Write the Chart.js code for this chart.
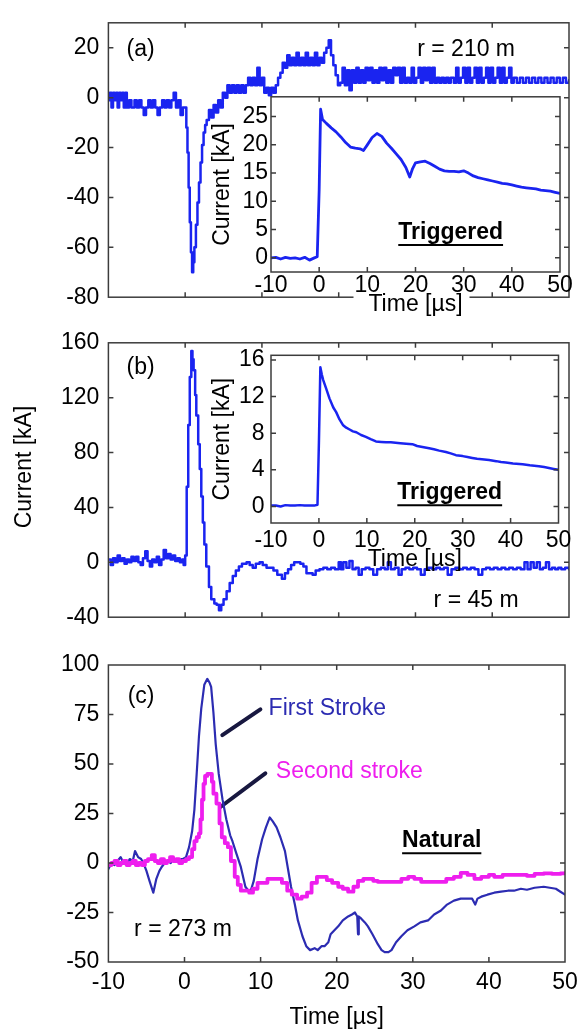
<!DOCTYPE html>
<html>
<head>
<meta charset="utf-8">
<script src="https://cdn.jsdelivr.net/npm/chart.js@4.4.1/dist/chart.umd.min.js"></script>
<style>
  html, body { margin: 0; padding: 0; background: #fff; }
  #fig { position: relative; width: 585px; height: 1033px; overflow: hidden; }
  #fig canvas { position: absolute; }
</style>
</head>
<body>
<div id="fig">
  <canvas id="mainA" width="585" height="320" style="left:0;top:0"></canvas>
  <canvas id="insetA" width="375" height="240" style="left:200px;top:80px"></canvas>
  <canvas id="mainB" width="585" height="320" style="left:0;top:320px"></canvas>
  <canvas id="insetB" width="375" height="240" style="left:200px;top:335px"></canvas>
  <canvas id="mainC" width="585" height="393" style="left:0;top:640px"></canvas>
</div>
<script>
// Lightning current waveforms: (a) and (b) measured at distance r with the
// triggered-lightning channel current as inset, (c) natural first and
// subsequent strokes. All traces are [time µs, current kA].

const FONT = '"Liberation Sans", Arial, Helvetica, sans-serif';
const TEXT_SIZE = 23;

const TIME_TICKS = [-10, 0, 10, 20, 30, 40, 50];
const A_TICKS = [-80, -60, -40, -20, 0, 20];
const A_INSET_TICKS = [0, 5, 10, 15, 20, 25];
const B_TICKS = [-40, 0, 40, 80, 120, 160];
const B_INSET_TICKS = [0, 4, 8, 12, 16];
const C_TICKS = [-50, -25, 0, 25, 50, 75, 100];

// (a) r = 210 m
const mainA = [
  [-10, -1], [-9.8, 2], [-9.6, -4], [-9.4, 2], [-9.2, -1], [-9, 2], [-8.8, -4], [-8.6, 2], [-8.4, -1],
  [-8.2, 2], [-8, -4], [-7.8, 2], [-7.6, -4], [-7.3, -1], [-7, -4], [-6.6, -1], [-6.3, -4], [-6, -1],
  [-5.7, -4], [-5.4, -7], [-5.1, -4], [-4.8, -1], [-4.5, -4], [-4.2, -1], [-3.9, -4], [-3.6, -7],
  [-3.3, -4], [-3, -1], [-2.7, -4], [-2.4, -1], [-2.1, -4], [-1.8, -1], [-1.5, 2], [-1.2, -4], [-0.9, -1],
  [-0.6, -7], [-0.3, -4], [0, -4], [0.15, -12], [0.3, -22], [0.45, -36], [0.6, -50], [0.75, -62], [0.9, -70],
  [1.05, -66], [1.2, -60], [1.4, -51], [1.6, -42], [1.8, -34], [2, -26], [2.2, -19], [2.4, -14], [2.6, -11],
  [2.8, -9], [3.1, -5], [3.4, -8], [3.7, -3], [4, -6], [4.3, -1], [4.6, -4], [4.9, 2], [5.2, 0],
  [5.5, 5], [5.8, 2], [6.1, 5], [6.4, 2], [6.7, 5], [7, 2], [7.3, 5], [7.6, 2], [7.9, 5], [8.2, 8], [8.5, 5],
  [8.8, 8], [9.1, 5], [9.4, 12], [9.7, 5], [10, 8], [10.3, 2], [10.6, 4], [10.9, 1], [11.2, 4], [11.5, 2],
  [11.8, 5], [12.1, 8], [12.4, 10], [12.7, 14], [13, 12], [13.3, 17], [13.6, 13], [13.9, 16], [14.2, 13],
  [14.5, 18], [14.8, 13], [15.1, 16], [15.4, 13], [15.7, 18], [16, 13], [16.3, 16], [16.6, 13], [16.9, 18],
  [17.2, 13], [17.5, 16], [17.8, 14], [18.1, 18], [18.4, 20], [18.7, 23], [19, 17], [19.3, 13], [19.6, 9],
  [19.9, 5], [20.2, 6], [20.5, 12], [20.8, 5], [21.1, 11], [21.4, 3], [21.7, 11], [22, 6], [22.3, 12],
  [22.6, 6], [22.9, 11], [23.2, 6], [23.5, 12], [23.8, 7], [24.1, 12], [24.4, 6], [24.7, 11], [25, 6],
  [25.3, 12], [25.6, 7], [25.9, 12], [26.2, 6], [26.5, 11], [26.8, 6], [27.1, 12], [27.4, 9], [27.7, 12],
  [28, 6], [28.3, 12], [28.6, 6], [28.9, 8], [29.2, 6], [29.5, 12], [29.8, 6], [30.1, 8], [30.4, 12],
  [30.7, 6], [31, 12], [31.3, 7], [31.6, 12], [31.9, 6], [32.2, 12], [32.5, 6], [32.8, 8], [33.1, 6],
  [33.4, 8], [33.7, 6], [34, 8], [34.3, 6], [34.6, 8], [35, 6], [35.3, 12], [35.6, 6], [35.9, 8], [36.2, 12],
  [36.5, 6], [36.8, 12], [37.1, 6], [37.4, 8], [37.7, 12], [38, 6], [38.3, 12], [38.6, 6], [38.9, 8],
  [39.2, 12], [39.5, 6], [39.8, 12], [40.1, 6], [40.4, 8], [40.7, 12], [41, 6], [41.3, 12], [41.6, 6],
  [41.9, 8], [42.2, 12], [42.5, 6], [42.8, 8], [43.2, 6], [43.6, 8], [44, 6], [44.4, 8], [44.8, 6], [45.2, 8],
  [45.6, 6], [46, 8], [46.4, 6], [46.8, 8], [47.2, 6], [47.6, 8], [48, 6], [48.4, 8], [48.8, 6], [49.2, 8],
  [49.6, 6], [50, 7],
];

// (a) inset, triggered channel current
const insetA = [
  [-10, 0], [-9, 0.1], [-8, -0.2], [-7, 0.1], [-6, -0.1], [-5, 0], [-4, -0.2], [-3, 0.1], [-2, -0.4],
  [-1, 0], [-0.4, 0.2], [0, 12], [0.3, 26.3], [0.7, 24.5], [1.5, 23.8], [2.5, 23], [3.5, 22.3], [4.5, 21.4],
  [5.5, 20.4], [6.5, 19.6], [7.5, 19.4], [8.5, 19.3], [9.2, 19], [10, 20], [11, 21.3], [12, 22], [13, 21.5],
  [14, 20.3], [15, 19.4], [16, 18.4], [17, 17.4], [18, 16], [18.8, 14.3], [19.4, 15.8], [20, 16.8], [21, 17],
  [22, 17.1], [23, 16.7], [24, 16.2], [25, 15.7], [26, 15.4], [27, 15.3], [28, 15.3], [29, 15.2], [30, 15.4],
  [31, 15], [32, 14.5], [33, 14.2], [34, 14], [35, 13.8], [36, 13.6], [37, 13.4], [38, 13.2], [39, 13.1],
  [40, 12.9], [41, 12.7], [42, 12.5], [43, 12.4], [44, 12.3], [45, 12.2], [46, 12], [47, 11.9], [48, 11.8],
  [49, 11.6], [50, 11.4],
];

// (b) r = 45 m
const mainB = [
  [-10, 2], [-9.7, -2], [-9.4, 3], [-9.1, 0], [-8.8, 5], [-8.5, 1], [-8.2, 3], [-7.9, -1], [-7.6, 2],
  [-7.3, 0], [-7, 4], [-6.7, 1], [-6.4, 4], [-6.1, 0], [-5.8, -2], [-5.5, 3], [-5.2, 8], [-4.9, 1],
  [-4.6, -3], [-4.3, 2], [-4, 0], [-3.7, 4], [-3.4, -2], [-3.1, 2], [-2.8, 9], [-2.5, 3], [-2.2, 6],
  [-1.9, 2], [-1.6, 5], [-1.3, 1], [-1, 3], [-0.7, 0], [-0.4, 2], [-0.2, -2], [0, 5], [0.2, 55], [0.4, 100],
  [0.6, 135], [0.8, 154], [0.95, 148], [1.1, 140], [1.3, 122], [1.45, 107], [1.7, 86], [1.9, 68], [2.1, 48],
  [2.3, 29], [2.5, 13], [2.75, -3], [3.1, -18], [3.4, -27], [3.8, -30], [4.1, -31],
  [4.4, -35], [4.7, -31], [5, -27], [5.4, -21], [5.8, -15], [6.2, -10], [6.6, -6], [7, -3], [7.4, -1], [8, 0],
  [8.4, -2], [8.8, -4], [9.2, -1], [9.7, 0], [10.1, -2], [10.6, -4], [11, -4], [11.5, -6], [12, -9],
  [12.6, -12], [13, -8], [13.4, -5], [13.8, -2], [14.2, 0], [14.6, 0], [15, -1], [15.4, -3], [15.8, -8],
  [16.2, -8], [16.6, -9], [17, -6], [17.5, -5], [18, -4], [18.5, -5], [19, -4], [19.5, -5], [20, 0],
  [20.3, -5], [20.6, 0], [21, -4], [21.4, 1], [21.8, -5], [22.2, -4], [22.6, -9], [23, -5], [23.5, -4],
  [24, -5], [24.5, -9], [25, -5], [25.5, -4], [26, -5], [26.4, 0], [26.8, -5], [27.3, -4], [27.8, -9],
  [28.2, -5], [28.7, -4], [29.2, -5], [29.7, -4], [30.2, -5], [30.7, -9], [31.2, -5], [31.7, -4], [32.2, -5],
  [32.7, -4], [33.2, -5], [33.7, -4], [34.2, -9], [34.7, -5], [35.2, -4], [35.7, -5], [36.2, -4], [36.7, -5],
  [37.2, -4], [37.7, -5], [38.2, -9], [38.7, -5], [39.2, -4], [39.7, -5], [40.2, -4], [40.7, -5], [41.2, -4],
  [41.7, -5], [42.2, -4], [42.7, -5], [43.2, -4], [43.7, -5], [44.2, 0], [44.6, -5], [45, 0], [45.4, -4],
  [45.8, 0], [46.2, -5], [46.6, -4], [47, 0], [47.4, -5], [47.8, -4], [48.2, -5], [48.6, -4], [49, -5],
  [49.5, -4], [50, -5],
];

// (b) inset, triggered channel current
const insetB = [
  [-10, 0.1], [-9, 0.1], [-8, 0], [-7, 0.15], [-6, 0.1], [-5, 0.1], [-4, 0.15], [-3, 0.1], [-2, 0.1],
  [-1, 0.1], [-0.3, 0.2], [0, 7], [0.3, 15.2], [0.6, 14.4], [0.9, 13.8], [1.5, 12.9], [2.2, 11.8], [3, 10.8],
  [3.6, 10.3], [4.3, 9.5], [5, 8.9], [5.7, 8.6], [6.4, 8.4], [7.1, 8.2], [7.8, 8.1], [8.8, 7.8], [9.8, 7.6],
  [10.8, 7.35], [11.9, 7.1], [13, 7.05], [14, 7], [15, 7], [16, 6.95], [17, 6.9], [18.2, 6.85], [19.5, 6.8],
  [20.5, 6.6], [21.6, 6.5], [23, 6.35], [24, 6.25], [25.1, 6.1], [26.5, 5.95], [27.5, 5.8], [28.6, 5.6],
  [30, 5.5], [31, 5.4], [32, 5.3], [33, 5.2], [34, 5.15], [35.5, 5.07], [37, 4.95], [38, 4.85], [39, 4.8],
  [40.5, 4.7], [42.5, 4.6], [44, 4.5], [45.9, 4.4], [47, 4.3], [48, 4.2], [49, 4.1], [50, 4],
];

// (c) natural lightning, r = 273 m
const firstStroke = [
  [-10, -3], [-9.6, 0], [-9.2, -1], [-8.8, 1], [-8.4, 3], [-8, 0], [-7.6, -1], [-7.2, 2], [-6.8, 1],
  [-6.5, 6], [-6.1, 3], [-5.7, 2], [-5.4, 0], [-5, -4], [-4.6, -9], [-4.1, -15], [-3.7, -8], [-3.3, -4],
  [-3, -2], [-2.6, 0], [-2.2, 1], [-1.8, 0], [-1.5, 2], [-1, 1], [-0.6, 2], [-0.2, 2], [0.2, 3], [0.6, 8],
  [1, 16], [1.3, 27], [1.6, 45], [1.9, 64], [2.2, 78], [2.6, 90], [3, 93], [3.3, 91], [3.5, 89], [3.8, 76],
  [4.1, 60], [4.5, 45], [5, 32], [5.5, 22], [6, 14], [6.3, 11], [6.8, 5], [7.4, -2], [8, -12], [8.4, -14],
  [8.7, -14], [9.1, -9], [9.6, 2], [10.2, 12], [10.7, 18], [11.2, 23], [11.6, 21], [12.1, 18], [12.6, 13],
  [13.2, 6], [13.6, -3], [14, -12], [14.5, -21], [14.9, -29], [15.5, -37], [16, -42], [16.5, -44],
  [17.1, -43], [17.5, -44], [18, -42], [18.4, -42], [18.9, -40], [19.2, -36], [19.7, -34], [20.2, -32],
  [20.8, -29], [21.5, -27], [22, -26], [22.4, -25], [22.7, -27], [22.8, -36], [22.9, -27], [23.2, -28],
  [23.7, -30], [24.1, -32], [24.7, -36], [25.4, -41], [25.9, -44], [26.3, -45], [26.8, -45], [27.2, -44],
  [27.8, -40], [28.5, -37], [29.3, -34], [30.2, -32], [31, -30], [32, -29], [32.8, -26], [33.7, -24],
  [34.5, -21], [35.4, -19], [36.3, -18], [37.2, -18], [37.8, -18], [38.2, -21], [38.5, -18], [39, -17],
  [39.8, -16], [40.7, -15], [41.6, -14.5], [42.5, -14], [43.3, -14], [44.2, -13], [45, -13.5], [46, -12.5],
  [47.2, -12], [48, -12.5], [48.8, -13], [49.4, -14.5], [50, -16],
];

const secondStroke = [
  [-10, -1], [-9.6, 0], [-9.2, 1], [-8.8, -1], [-8.4, 0], [-8, 1], [-7.6, -1], [-7.2, 0], [-6.8, 1],
  [-6.4, -1], [-6, 0], [-5.6, -1], [-5.2, 1], [-4.8, 2], [-4.3, 4], [-3.9, 1], [-3.5, 0], [-3.1, 2],
  [-2.7, 0], [-2.3, 1], [-1.9, 3], [-1.5, 1], [-1.1, 2], [-0.7, 0], [-0.3, 1], [0.2, 2], [0.6, 3], [1, 7],
  [1.3, 11], [1.6, 13], [1.9, 15], [2.1, 22], [2.3, 32], [2.5, 40], [2.7, 44], [3, 45], [3.4, 45], [3.6, 41],
  [3.8, 35], [4.2, 30], [4.6, 20], [4.9, 13], [5.3, 10], [5.7, 8], [6.1, 1], [6.6, -7], [7, -11], [7.4, -14],
  [8, -14], [8.5, -15], [9, -13], [9.6, -10], [10.2, -10], [10.9, -8], [11.5, -8], [12.2, -8], [12.8, -10],
  [13.5, -14], [14.1, -16], [14.8, -18], [15.4, -17], [16.1, -15], [16.7, -10], [17.4, -7], [18.1, -7],
  [18.7, -8.6], [19.4, -10], [20.2, -12], [20.8, -13], [21.5, -14.5], [22.2, -12], [22.8, -9], [23.5, -8],
  [24.1, -8], [24.8, -9], [25.4, -9.5], [26.5, -9.5], [27.6, -9.5], [28.5, -8], [29.4, -7], [30.2, -8],
  [31.1, -9.5], [32.2, -9.5], [33.3, -9.5], [34.4, -8], [35.4, -7], [36.3, -5], [37.2, -6], [38.1, -8],
  [39, -7], [40, -6], [40.7, -7], [41.8, -6], [42.9, -6], [44, -6], [45, -6.5], [46, -5.5], [47.2, -5.2],
  [48.3, -5.5], [49.4, -5.2], [50, -5],
];

// leader lines from the stroke labels to the curves, in (c) data units
const firstPointer = [[4.97, 64.6], [9.97, 77.6]];
const secondPointer = [[4.76, 28.4], [10.62, 45.3]];

const BLUE = "#1a24f0";
const NAVY = "#2c2cb2";
const MAGENTA = "#ee1eee";

const A_NOTES = [
  { text: "(a)", t: -5.8, v: 20 },
  { text: "r = 210 m", t: 36.6, v: 20 },
];
const A_INSET_NOTES = [{ text: "Triggered", t: 27.3, v: 4.8, bold: true, underline: true }];
const B_NOTES = [
  { text: "(b)", t: -5.8, v: 143 },
  { text: "r = 45 m", t: 37.9, v: -26.5 },
];
const B_INSET_NOTES = [{ text: "Triggered", t: 27.3, v: 1.7, bold: true, underline: true }];
const C_NOTES = [
  { text: "(c)", t: -5.7, v: 84.8 },
  { text: "r = 273 m", t: -0.2, v: -32.8 },
  { text: "First Stroke", t: 11.05, v: 79, align: "left", color: NAVY },
  { text: "Second stroke", t: 12.0, v: 47, align: "left", color: MAGENTA },
  { text: "Natural", t: 33.8, v: 12.1, bold: true, underline: true },
];

Chart.defaults.font.family = FONT;
Chart.defaults.font.size = TEXT_SIZE;
Chart.defaults.color = "#000";

// the digitiser output is quantised, so the noisy records are drawn as steps
function trace(points, color, width, stepped) {
  return {
    data: points.map(([t, i]) => ({ x: t, y: i })),
    borderColor: color,
    borderWidth: width,
    pointRadius: 0,
    tension: 0,
    fill: false,
    stepped: stepped || false,
    borderJoinStyle: "round",
    borderCapStyle: "round",
  };
}

function axis(min, max, ticks, opts) {
  return {
    type: "linear",
    min,
    max,
    afterBuildTicks: (s) => {
      s.ticks = ticks.map((v) => ({ value: v }));
    },
    ticks: { display: opts.labels !== false, padding: opts.pad || 0 },
    grid: { display: false, drawTicks: false },
    border: { display: false },
    title: opts.title
      ? { display: true, text: opts.title, padding: opts.titlePad }
      : { display: false },
    afterFit: (s) => {
      if (s.isHorizontal()) s.height = opts.size;
      else s.width = opts.size;
    },
  };
}

// box round the plot area with MATLAB-style inward tick marks on all four sides
const frame = {
  id: "frame",
  afterDatasetsDraw(chart) {
    const { ctx, chartArea: a, scales } = chart;
    const { x, y } = scales;
    ctx.save();
    ctx.strokeStyle = "#3c3c3c";
    ctx.lineWidth = 1.5;
    ctx.beginPath();
    x.ticks.forEach((t) => {
      if (t.value <= x.min || t.value >= x.max) return;
      const px = x.getPixelForValue(t.value);
      ctx.moveTo(px, a.top);
      ctx.lineTo(px, a.top + 5);
      ctx.moveTo(px, a.bottom);
      ctx.lineTo(px, a.bottom - 5);
    });
    y.ticks.forEach((t) => {
      if (t.value <= y.min || t.value >= y.max) return;
      const py = y.getPixelForValue(t.value);
      ctx.moveTo(a.left, py);
      ctx.lineTo(a.left + 5, py);
      ctx.moveTo(a.right, py);
      ctx.lineTo(a.right - 5, py);
    });
    ctx.stroke();
    ctx.strokeRect(a.left, a.top, a.right - a.left, a.bottom - a.top);
    ctx.restore();
  },
};

// text annotations placed in data units
function notesPlugin(items) {
  return {
    id: "notes",
    afterDraw(chart) {
      const { ctx, scales } = chart;
      ctx.save();
      items.forEach((n) => {
        ctx.font = (n.bold ? "bold " : "") + TEXT_SIZE + "px " + FONT;
        ctx.fillStyle = n.color || "#000";
        ctx.textAlign = n.align || "center";
        ctx.textBaseline = "alphabetic";
        const px = scales.x.getPixelForValue(n.t);
        const py = scales.y.getPixelForValue(n.v) + TEXT_SIZE * 0.358;
        ctx.fillText(n.text, px, py);
        if (n.underline) {
          const w = ctx.measureText(n.text).width;
          const x0 = n.align === "left" ? px : px - w / 2;
          ctx.strokeStyle = ctx.fillStyle;
          ctx.lineWidth = 2;
          ctx.beginPath();
          ctx.moveTo(x0, py + 6);
          ctx.lineTo(x0 + w, py + 6);
          ctx.stroke();
        }
      });
      ctx.restore();
    },
  };
}

// insets sit on a white plot area; inset (a)'s x title also blanks the main axis line
function insetBackdrop(blankTitle) {
  return {
    id: "insetBackdrop",
    beforeDraw(chart) {
      const { ctx, chartArea: a, scales } = chart;
      ctx.save();
      ctx.fillStyle = "#fff";
      ctx.fillRect(a.left, a.top, a.right - a.left, a.bottom - a.top);
      if (blankTitle) {
        const cx = (scales.x.left + scales.x.right) / 2;
        ctx.fillRect(cx - 62, scales.x.bottom - 30, 116, 28);
      }
      ctx.restore();
    },
  };
}

const sideLabel = {
  id: "sideLabel",
  afterDraw(chart) {
    const { ctx } = chart;
    ctx.save();
    ctx.font = TEXT_SIZE + "px " + FONT;
    ctx.fillStyle = "#000";
    ctx.textAlign = "center";
    ctx.textBaseline = "middle";
    ctx.translate(25, 147);
    ctx.rotate(-Math.PI / 2);
    ctx.fillText("Current [kA]", 0, 0);
    ctx.restore();
  },
};

function makeChart(id, datasets, x, y, padding, plugins) {
  return new Chart(document.getElementById(id), {
    type: "line",
    data: { datasets },
    options: {
      responsive: false,
      animation: false,
      events: [],
      layout: { padding },
      plugins: { legend: { display: false }, tooltip: { enabled: false } },
      scales: { x, y },
    },
    plugins,
  });
}

makeChart(
  "mainA",
  [trace(mainA, BLUE, 2.5, true)],
  axis(-10, 50, TIME_TICKS, { labels: false, size: 15 }),
  axis(-80, 30, A_TICKS, { pad: 9, size: 108.4 }),
  { top: 10, right: 16, left: 0, bottom: 0 },
  [frame, notesPlugin(A_NOTES)]
);

makeChart(
  "insetA",
  [trace(insetA, BLUE, 2.8)],
  axis(-10, 50, TIME_TICKS, { pad: 0, size: 48, title: "Time [µs]", titlePad: { top: 0, bottom: 1.2 } }),
  axis(-2.5, 28.5, A_INSET_TICKS, { pad: 3, size: 71, title: "Current [kA]", titlePad: { top: 9.2, bottom: 0 } }),
  { top: 9, right: 15, left: 0, bottom: 0 },
  [insetBackdrop(true), frame, notesPlugin(A_INSET_NOTES)]
);

makeChart(
  "mainB",
  [trace(mainB, BLUE, 2.5, true)],
  axis(-10, 50, TIME_TICKS, { labels: false, size: 8 }),
  axis(-40, 160, B_TICKS, { pad: 9, size: 108.4 }),
  { top: 15, right: 16, left: 0, bottom: 0 },
  [frame, notesPlugin(B_NOTES), sideLabel]
);

makeChart(
  "insetB",
  [trace(insetB, BLUE, 2.5)],
  axis(-10, 50, TIME_TICKS, { pad: 3.7, size: 52, title: "Time [µs]", titlePad: { top: 0, bottom: 1.2 } }),
  axis(-1.8, 16.5, B_INSET_TICKS, { pad: 6.5, size: 71, title: "Current [kA]", titlePad: { top: 9.2, bottom: 0 } }),
  { top: 12, right: 15, left: 0, bottom: 0 },
  [insetBackdrop(false), frame, notesPlugin(B_INSET_NOTES)]
);

makeChart(
  "mainC",
  [
    trace(secondStroke, MAGENTA, 3.8, true),
    trace(firstStroke, NAVY, 2.2),
    trace(firstPointer, "#181840", 4),
    trace(secondPointer, "#181840", 4),
  ],
  axis(-10, 50, TIME_TICKS, { pad: 7.2, size: 71, title: "Time [µs]", titlePad: { top: 0, bottom: 1.2 } }),
  axis(-50, 100, C_TICKS, { pad: 9, size: 108.4 }),
  { top: 25, right: 16, left: 0, bottom: 0 },
  [frame, notesPlugin(C_NOTES)]
);
</script>
</body>
</html>
